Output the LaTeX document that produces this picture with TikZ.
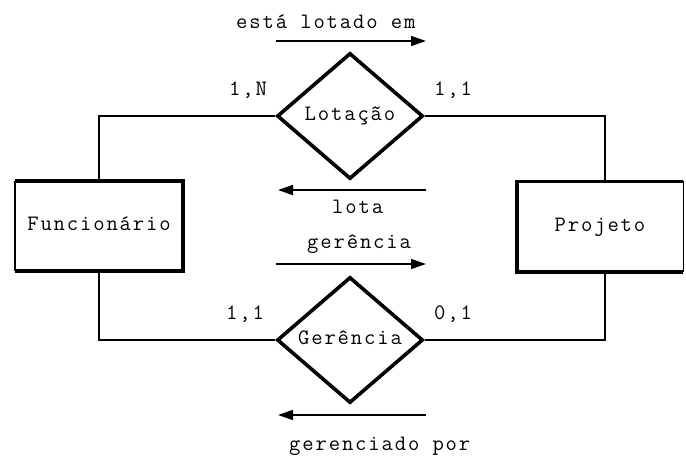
\documentclass[tikz,border=0pt]{standalone}
\usepackage{fontspec}
\usetikzlibrary{shapes.geometric,arrows.meta}
% typewriter face with slightly opened tracking
\newfontfamily\erfam{Latin Modern Mono}[LetterSpace=8.5]
\newcommand{\erfont}{\erfam\fontsize{22}{24}\selectfont}
\begin{document}
\begin{tikzpicture}[x=1pt,y=-1pt,
  every node/.style={font=\erfont, inner sep=0pt},
  txt/.style={anchor=base west},
  entity/.style={rectangle, draw=none, minimum width=168pt, minimum height=90pt,
                 text height=12pt, text depth=3pt},
  rel/.style={diamond, draw, line width=3.6pt, line join=miter,
              minimum width=146pt, minimum height=126pt,
              text height=12pt, text depth=3pt},
  link/.style={line width=1.5pt},
  dirarrow/.style={line width=1.6pt, -{Triangle[length=15pt,width=10pt]}},
  edgebold/.style={line width=3.6pt},
  edgethin/.style={line width=1.4pt}]

\useasboundingbox[fill=white] (0,0) rectangle (686,466);

% entities
\node[entity] (func) at (99,226) {Funcionário};
\node[entity, minimum width=166pt] (proj) at (600,226.5) {Projeto};

% entity borders: three heavy sides, one light side
\draw[edgethin] (func.north west) -- (func.south west);
\draw[edgebold, line join=miter] (func.north west) -- (func.north east)
      -- (func.south east) -- (func.south west);
\draw[edgethin] (proj.north east) -- (proj.south east);
\draw[edgebold, line join=miter] (proj.north east) -- (proj.north west)
      -- (proj.south west) -- (proj.south east);

% attachment points on the Projeto box
\coordinate (projtop) at ([xshift=5pt]proj.north);
\coordinate (projbot) at ([xshift=5pt]proj.south);

% relationships
\node[rel] (lot) at (350,116) {\makebox[0pt]{Lotação}};
\node[rel] (ger) at (350,340) {\makebox[0pt]{Gerência}};

% connections between entities and relationships
\draw[link] (lot.west) -| (func.north);
\draw[link] (lot.east) -| (projtop);
\draw[link] (ger.west) -| (func.south);
\draw[link] (ger.east) -| (projbot);

% reading-direction arrows
\coordinate (a1s) at (276,41);  \coordinate (a1e) at (426,41);
\coordinate (a2s) at (426,190); \coordinate (a2e) at (278,190);
\coordinate (a3s) at (276,264); \coordinate (a3e) at (426,264);
\coordinate (a4s) at (426,415); \coordinate (a4e) at (278,415);
\draw[dirarrow] (a1s) -- (a1e);
\draw[dirarrow] (a2s) -- (a2e);
\draw[dirarrow] (a3s) -- (a3e);
\draw[dirarrow] (a4s) -- (a4e);

% role labels
\node[txt] (l1) at (236,28) {está lotado em};
\node[txt] (l2) at (332,213) {lota};
\node[txt] (l3) at (307,248) {gerência};
\node[txt] (l4) at (289,450) {gerenciado por};

% cardinalities
\node[txt] (c1) at (229,95) {1,N};
\node[txt] (c2) at (434,95) {1,1};
\node[txt] (c3) at (226,319) {1,1};
\node[txt] (c4) at (434,319) {0,1};

\end{tikzpicture}
\end{document}
